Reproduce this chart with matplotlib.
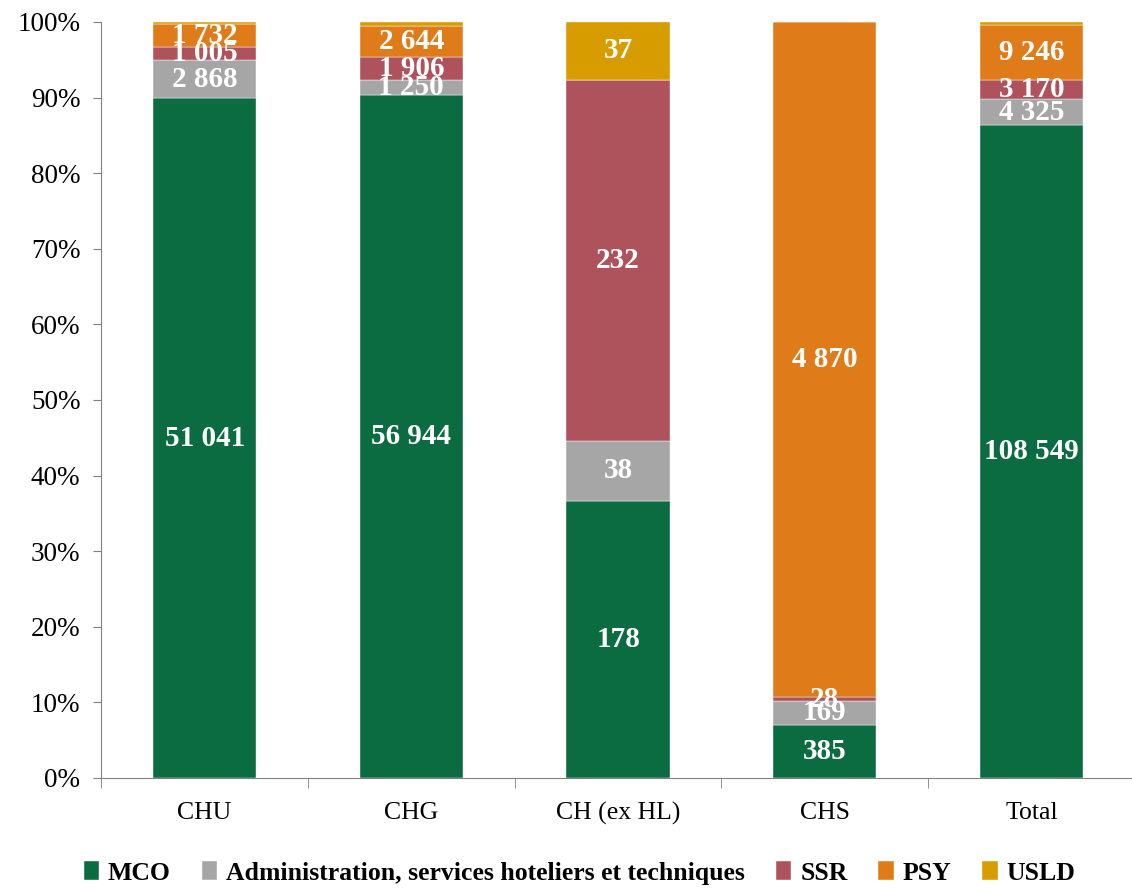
import numpy as np
import matplotlib
matplotlib.use("Agg")
import matplotlib.pyplot as plt
from matplotlib.ticker import FuncFormatter

plt.rcParams['font.family'] = ['Liberation Serif', 'DejaVu Serif']

categories = ["CHU", "CHG", "CH (ex HL)", "CHS", "Total"]
series = ["MCO", "Administration, services hoteliers et techniques", "SSR", "PSY", "USLD"]
mco = [51041, 56944, 178, 385, 108549]
admin = [2868, 1250, 38, 169, 4325]
ssr = [1005, 1906, 232, 28, 3170]
psy = [1732, 2644, 0, 4870, 9246]
usld = [120, 300, 37, 0, 457]
colors = ["#0B6B41", "#A6A6A6", "#AE525C", "#E07B19", "#D69C00"]

data = np.array([mco, admin, ssr, psy, usld], dtype=float)
totals = data.sum(axis=0)
pct = data / totals * 100

def fmt(v):
    return "{:,}".format(int(v)).replace(",", " ")

fig = plt.figure(figsize=(11.32, 8.88), dpi=100)
ax = fig.add_axes([0.0895, 0.1239, 0.913, 0.8514])

x = np.arange(len(categories))
bottom = np.zeros(len(categories))
for i, name in enumerate(series):
    ax.bar(x, pct[i], 0.5, bottom=bottom, color=colors[i], label=name,
           edgecolor="white", linewidth=0.3)
    for j in range(len(categories)):
        # small USLD slices have no label in the original
        if data[i, j] > 0 and (i != 4 or pct[i, j] > 2):
            ax.text(x[j], bottom[j] + pct[i, j] / 2, fmt(data[i, j]),
                    ha="center", va="center", color="white",
                    fontsize=21, fontweight="bold")
    bottom += pct[i]

ax.set_ylim(0, 100)
ax.set_xlim(-0.5, len(categories) - 0.5)
ax.set_yticks(np.arange(0, 101, 10))
ax.yaxis.set_major_formatter(FuncFormatter(lambda v, p: "%d%%" % v))
ax.set_xticks(x)
ax.set_xticklabels(categories)
ax.set_xticks(np.arange(-0.5, len(categories), 1), minor=True)
ax.tick_params(axis="x", which="major", length=0, pad=17, labelsize=18.5)
ax.tick_params(axis="x", which="minor", length=7, color="#808080")
ax.tick_params(axis="y", length=6, color="#808080", labelsize=19.5, pad=9)
for s in ["top", "right"]:
    ax.spines[s].set_visible(False)
ax.spines["left"].set_color("#808080")
ax.spines["bottom"].set_color("#808080")

leg = fig.legend(loc="center", ncol=5, frameon=False, bbox_to_anchor=(0.512, 0.017),
                 handlelength=0.6, handleheight=0.75, handletextpad=0.35, columnspacing=1.2,
                 prop={"size": 18.5, "weight": "bold"})

fig.savefig("out.png", dpi=100)
